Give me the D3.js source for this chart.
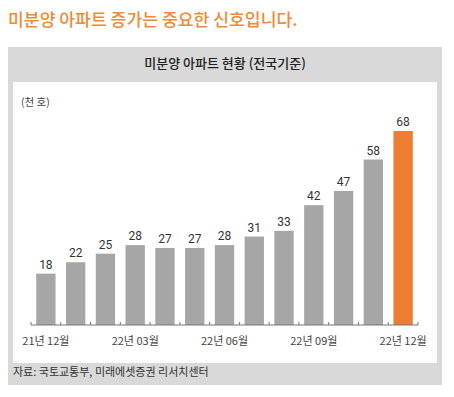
<!DOCTYPE html>
<html>
<head>
<meta charset="utf-8">
<script src="https://cdn.jsdelivr.net/npm/d3@7"></script>
<style>
  body { margin: 0; background: #fff; }
  svg { display: block; font-family: "Noto Sans CJK KR", "Noto Sans", sans-serif; }
</style>
</head>
<body>
<script>
// data
const months = ["21.12", "22.01", "22.02", "22.03", "22.04", "22.05", "22.06",
                "22.07", "22.08", "22.09", "22.10", "22.11", "22.12"]
const values = [18, 22, 25, 28, 27, 27, 28, 31, 33, 42, 47, 58, 68]
const tickLabels = {
    "21.12": "21년 12월",
    "22.03": "22년 03월",
    "22.06": "22년 06월",
    "22.09": "22년 09월",
    "22.12": "22년 12월"
}

const width = 454, height = 397

const svg = d3.select("body").append("svg")
    .attr("width", width)
    .attr("height", height)

// headline
svg.append("text")
    .attr("x", 8)
    .attr("y", 26)
    .attr("fill", "#f08a35")
    .attr("font-size", 17.2)
    .attr("font-weight", 500)
    .text("미분양 아파트 증가는 중요한 신호입니다.")

// grey frame + white plot panel
svg.append("rect")
    .attr("x", 8).attr("y", 47)
    .attr("width", 434).attr("height", 338)
    .attr("fill", "#d9d9d9")
svg.append("rect")
    .attr("x", 13).attr("y", 82)
    .attr("width", 424).attr("height", 281)
    .attr("fill", "#fff")

svg.append("text")
    .attr("x", 225)
    .attr("y", 68)
    .attr("text-anchor", "middle")
    .attr("fill", "#222")
    .attr("font-size", 13)
    .attr("font-weight", 500)
    .text("미분양 아파트 현황 (전국기준)")

svg.append("text")
    .attr("x", 21)
    .attr("y", 106)
    .attr("fill", "#444")
    .attr("font-size", 10.5)
    .text("(천 호)")

const x = d3.scaleBand()
    .domain(months)
    .range([31, 418])
    .paddingInner(0.35)
    .paddingOuter(0.175)

const y = d3.scaleLinear()
    .domain([0, 68])
    .range([325, 131])

const g = svg.append("g")

g.selectAll("rect.bar")
    .data(values)
    .enter()
    .append("rect")
    .attr("class", "bar")
    .attr("x", (d, i) => x(months[i]))
    .attr("y", d => y(d))
    .attr("width", x.bandwidth())
    .attr("height", d => y(0) - y(d))
    .attr("fill", (d, i) => i === values.length - 1 ? "#ed7d31" : "#a6a6a6")

g.selectAll("text.val")
    .data(values)
    .enter()
    .append("text")
    .attr("class", "val")
    .attr("x", (d, i) => x(months[i]) + x.bandwidth() / 2)
    .attr("y", d => y(d) - 5)
    .attr("text-anchor", "middle")
    .attr("fill", "#333")
    .attr("font-family", "Roboto, sans-serif")
    .attr("font-size", 12)
    .text(d => d)

// axis line with small ticks between bars
const axis = svg.append("g")
axis.append("line")
    .attr("x1", 31).attr("x2", 418)
    .attr("y1", y(0)).attr("y2", y(0))
    .attr("stroke", "#777")
    .attr("stroke-width", 1)

const step = x.step()
const tickPos = d3.range(months.length + 1).map(i => 31 + i * step)
axis.selectAll("line.tick")
    .data(tickPos)
    .enter()
    .append("line")
    .attr("class", "tick")
    .attr("x1", d => d).attr("x2", d => d)
    .attr("y1", y(0) - 3).attr("y2", y(0))
    .attr("stroke", "#777")

axis.selectAll("text.lab")
    .data(months.filter(m => tickLabels[m]))
    .enter()
    .append("text")
    .attr("class", "lab")
    .attr("x", d => x(d) + x.bandwidth() / 2)
    .attr("y", 345)
    .attr("text-anchor", "middle")
    .attr("fill", "#444")
    .attr("font-size", 11)
    .text(d => tickLabels[d])

svg.append("text")
    .attr("x", 13)
    .attr("y", 376)
    .attr("fill", "#333")
    .attr("font-size", 11)
    .text("자료: 국토교통부, 미래에셋증권 리서치센터")
</script>
</body>
</html>
